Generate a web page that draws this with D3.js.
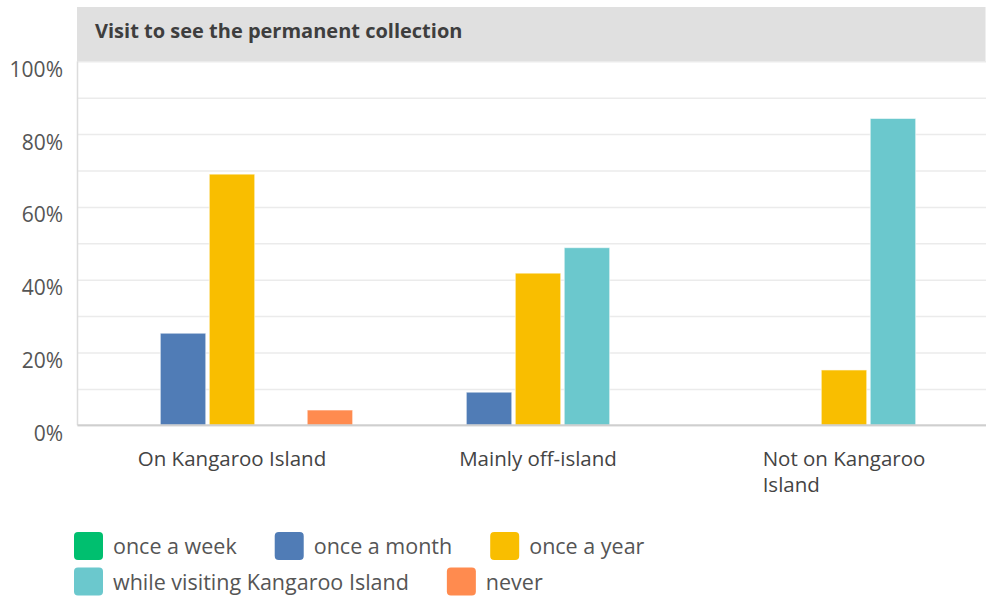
<!DOCTYPE html>
<html>
<head>
<meta charset="utf-8">
<script src="https://cdn.jsdelivr.net/npm/d3@7/dist/d3.min.js"></script>
<style>
  body { margin: 0; background: #fff; }
  svg text { font-family: "Open Sans", "Noto Sans", sans-serif; }
  .grid line { stroke: #ebebeb; stroke-width: 1.5; }
  .grid path { display: none; }
  .yaxis path, .yaxis line { display: none; }
  .yaxis text { fill: #555; font-size: 21px; }
</style>
</head>
<body>
<div id="chart"></div>
<script>
const width = 986
const height = 599

// data
const title = 'Visit to see the permanent collection'
const categories = ['On Kangaroo Island', 'Mainly off-island', 'Not on Kangaroo Island']
const series = ['once a week', 'once a month', 'once a year', 'while visiting Kangaroo Island', 'never']
const colors = ['#00bf6f', '#507cb6', '#f9be00', '#6bc8cd', '#ff8b4f']
// percentages per series, one value per category
const onceAWeek = [0, 0, 0]
const onceAMonth = [25.3, 9.1, 0]
const onceAYear = [69.0, 41.8, 15.2]
const whileVisiting = [0, 48.8, 84.3]
const never = [4.2, 0, 0]
const values = [onceAWeek, onceAMonth, onceAYear, whileVisiting, never]
const yTicks = [0, 20, 40, 60, 80, 100]
const yGrid = d3.range(0, 101, 10)

const svg = d3.select('#chart')
  .append('svg')
  .attr('width', width)
  .attr('height', height)

const plotLeft = 77.5
const plotTop = 61.3
const plotBottom = 425.3

// header band
svg.append('rect')
  .attr('x', plotLeft - 0.5)
  .attr('y', 7)
  .attr('width', width - plotLeft)
  .attr('height', plotTop - 7)
  .attr('fill', '#e0e0e0')
svg.append('text')
  .attr('x', 95)
  .attr('y', 37.5)
  .attr('fill', '#3e3e3e')
  .style('font-size', '20px')
  .style('font-weight', 700)
  .text(title)

// scales
const y = d3.scaleLinear().domain([0, 100]).range([plotBottom, plotTop])
const x0 = d3.scaleBand().domain(categories).range([79, 997])
const x1 = d3.scaleBand().domain(series).range([0, x0.bandwidth()])
  .paddingInner(0.0714).paddingOuter(0.66)
const color = d3.scaleOrdinal().domain(series).range(colors)

// gridlines
svg.append('g')
  .attr('class', 'grid')
  .attr('transform', `translate(${plotLeft},0)`)
  .call(d3.axisLeft(y).tickValues(yGrid).tickSize(-(width - plotLeft)).tickFormat(''))

// left axis line
svg.append('line')
  .attr('x1', plotLeft).attr('x2', plotLeft)
  .attr('y1', plotTop).attr('y2', plotBottom)
  .attr('stroke', '#dcdcdc').attr('stroke-width', 1.5)

// y labels (sit a bit below their gridline)
svg.append('g')
  .attr('class', 'yaxis')
  .attr('transform', `translate(${plotLeft - 14.5},8.3)`)
  .call(d3.axisLeft(y).tickValues(yTicks).tickSize(0).tickPadding(0).tickFormat(d => d + '%'))

// bars
const groups = svg.append('g')
  .selectAll('g')
  .data(categories)
  .join('g')
  .attr('transform', d => `translate(${x0(d)},0)`)
groups.selectAll('rect')
  .data((d, i) => series.map((s, j) => ({ s, v: values[j][i] })).filter(d => d.v > 0))
  .join('rect')
  .attr('x', d => x1(d.s))
  .attr('y', d => y(d.v))
  .attr('width', x1.bandwidth())
  .attr('height', d => y(0) - y(d.v))
  .attr('fill', d => color(d.s))
  .attr('stroke', 'rgba(255,255,255,0.6)')
  .attr('stroke-width', 1)

// baseline
svg.append('line')
  .attr('x1', plotLeft).attr('x2', width)
  .attr('y1', plotBottom).attr('y2', plotBottom)
  .attr('stroke', '#cfcfcf').attr('stroke-width', 2)

// category labels, wrapped, block centred under the group, lines left aligned
const maxLabel = 205
categories.forEach(c => {
  const t = svg.append('text')
    .attr('fill', '#444')
    .style('font-size', '20.5px')
  const words = c.split(' ')
  let lines = [[]]
  const probe = t.append('tspan')
  words.forEach(w => {
    const cur = lines[lines.length - 1]
    probe.text(cur.concat(w).join(' '))
    if (cur.length && probe.node().getComputedTextLength() > maxLabel) lines.push([w])
    else cur.push(w)
  })
  probe.remove()
  const tspans = lines.map((l, i) => t.append('tspan')
    .attr('dy', i ? 25.5 : 0)
    .text(l.join(' ')))
  const w = d3.max(tspans, s => s.node().getComputedTextLength())
  const xs = x0(c) + x0.bandwidth() / 2 - w / 2
  tspans.forEach(s => s.attr('x', xs))
  t.attr('y', 466)
})

// legend, flowing into rows
const legend = svg.append('g')
let lx = 74, ly = 532
series.forEach((s, i) => {
  const g = legend.append('g')
  const label = g.append('text')
    .attr('x', 39)
    .attr('y', 22)
    .attr('fill', '#555')
    .style('font-size', '21.5px')
    .text(s)
  const w = 39 + label.node().getComputedTextLength()
  if (lx + w > 700) { lx = 74; ly += 35.5 }
  g.append('rect')
    .attr('width', 29).attr('height', 28)
    .attr('rx', 4)
    .attr('fill', color(s))
  g.attr('transform', `translate(${lx},${ly})`)
  lx += w + 38
})
</script>
</body>
</html>
